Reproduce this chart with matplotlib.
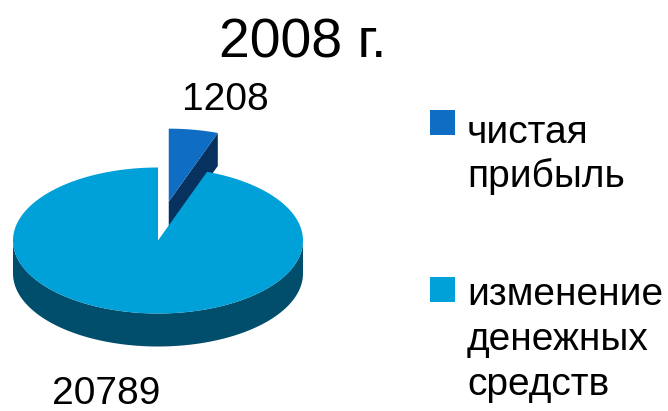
import numpy as np
import matplotlib
matplotlib.use("Agg")
import matplotlib.pyplot as plt
from matplotlib.patches import Polygon, Rectangle

# ---- data ----
categories = ['чистая прибыль', 'изменение денежных средств']
values = [1208, 20789]
legend_lines = [['чистая', 'прибыль'], ['изменение', 'денежных', 'средств']]
value_labels = ['1208', '20789']
title = '2008 г.'

# ---- styles ----
top_colors = ['#0F6EC4', '#00A0D8']
side_colors = ['#07325F', '#004E6B']
font = ['Liberation Sans', 'DejaVu Sans']

fig = plt.figure(figsize=(6.68, 4.11), dpi=100)
ax = fig.add_axes([0, 0, 1, 1])
ax.set_xlim(0, 668)
ax.set_ylim(411, 0)
ax.axis('off')

cx, cy, rx, ry, depth = 158.0, 240.5, 145.0, 73.0, 33.0
explode = [0.54, 0.0]

total = float(sum(values))
start = 90.0
angles = []
for v in values:
    sweep = 360.0 * v / total
    angles.append((start - sweep, start))  # clockwise from 12 o'clock
    start -= sweep


def pt(x0, y0, a):
    r = np.radians(a)
    return x0 + rx * np.cos(r), y0 - ry * np.sin(r)


def arc(x0, y0, a1, a2, n=200):
    t = np.radians(np.linspace(a1, a2, n))
    return np.column_stack([x0 + rx * np.cos(t), y0 - ry * np.sin(t)])


# small slice (exploded, sits behind the main pie)
a1, a2 = angles[0]
mid = np.radians((a1 + a2) / 2)
sx = cx + 0.8 * explode[0] * rx * np.cos(mid)
sy = cy - explode[0] * ry * np.sin(mid)
p = pt(sx, sy, a1)
face = [(sx, sy), p, (p[0], p[1] + depth), (sx, sy + depth)]
ax.add_patch(Polygon(face, closed=True, facecolor=side_colors[0], edgecolor='none', zorder=1))
top = np.vstack([[sx, sy], arc(sx, sy, a1, a2)])
ax.add_patch(Polygon(top, closed=True, facecolor=top_colors[0], edgecolor='none', zorder=2))

# main slice
lo, hi = angles[1]
wl, wh = max(lo, -180.0), min(hi, 0.0)  # visible front wall
wall_top = arc(cx, cy, wl, wh)
wall_bot = wall_top[::-1] + np.array([0, depth])
ax.add_patch(Polygon(np.vstack([wall_top, wall_bot]), closed=True,
                     facecolor=side_colors[1], edgecolor='none', zorder=3))
main_top = np.vstack([[cx, cy], arc(cx, cy, lo, hi, 600)])
ax.add_patch(Polygon(main_top, closed=True, facecolor=top_colors[1], edgecolor='none', zorder=4))

# labels
ax.text(303, 57, title, fontsize=40, family=font, ha='center', va='baseline')
ax.text(225, 110, value_labels[0], fontsize=28, family=font, ha='center', va='baseline')
ax.text(106, 404, value_labels[1], fontsize=28, family=font, ha='center', va='baseline')

# legend
sq_y = [110, 277]
base_y = [[143, 187], [305, 350, 395]]
for i in range(len(categories)):
    ax.add_patch(Rectangle((430, sq_y[i]), 25, 25, facecolor=top_colors[i], edgecolor='none'))
    for line, by in zip(legend_lines[i], base_y[i]):
        ax.text(467, by, line, fontsize=28, family=font, ha='left', va='baseline')

fig.savefig('out.png', dpi=100)
